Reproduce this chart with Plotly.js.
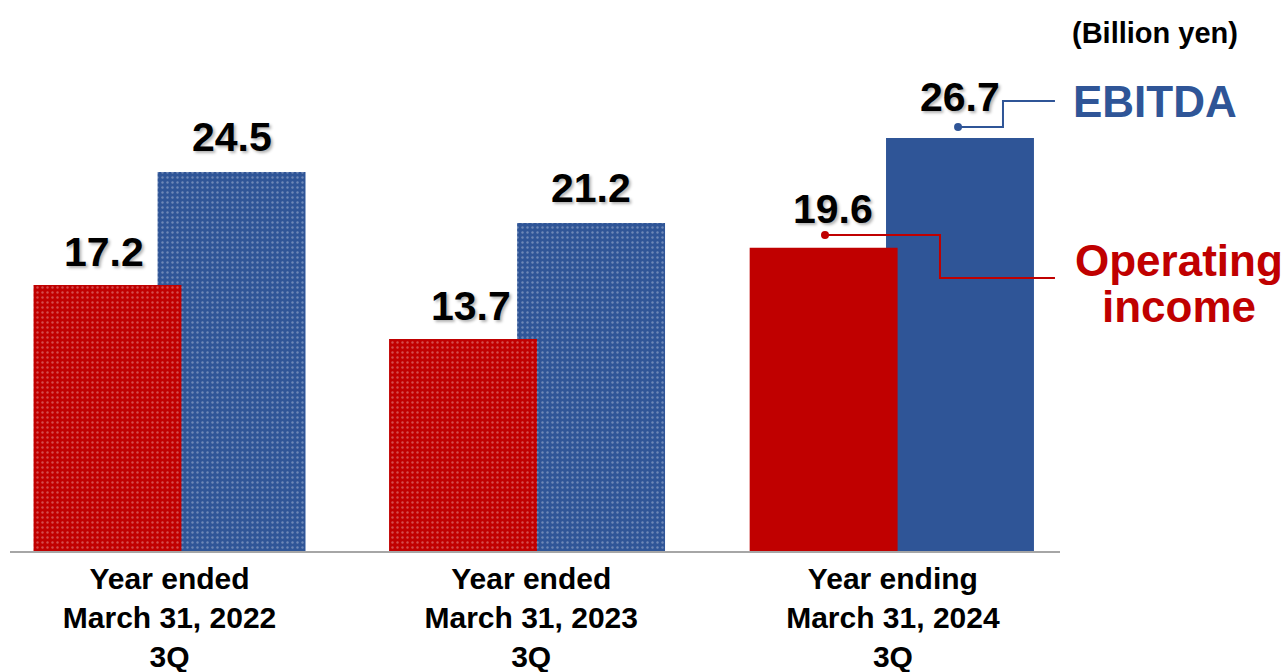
<!DOCTYPE html>
<html>
<head>
<meta charset="utf-8">
<script src="https://cdn.plot.ly/plotly-3.0.1.min.js"></script>
<style>html,body{margin:0;padding:0;background:#fff;}#chart{width:1288px;height:672px;}</style>
</head>
<body>
<div id="chart"></div>
<script>
// ---- data ----
const categories = [
  "Year ended<br>March 31, 2022<br>3Q",
  "Year ended<br>March 31, 2023<br>3Q",
  "Year ending<br>March 31, 2024<br>3Q"
];
const operatingIncome = [17.2, 13.7, 19.6];
const ebitda = [24.5, 21.2, 26.7];
const patterned = ['.', '.', ''];   // first two periods are drawn with a dotted fill
const unitLabel = "(Billion yen)";
const seriesNames = ["EBITDA", "Operating", "income"];

// ---- styling ----
const RED = "#C00000", BLUE = "#2F5597";
const FONT = "Liberation Sans, Arial, sans-serif";
const W = 0.409;
const OFF_RED = [-0.376, -0.393, -0.396];
const OFF_BLUE = [-0.033, -0.039, -0.019];
const LBL_SHIFT = [0, 0, 6];
const RED_XSHIFT = [-3, 8, 9];
const xs = categories.map((_, i) => i);

const pat = {shape: patterned, fillmode: 'overlay', fgcolor: 'rgba(255,255,255,0.6)', size: 5, solidity: 0.18};

const traces = [
  {type: 'bar', x: xs, y: ebitda, width: W, offset: OFF_BLUE, name: 'EBITDA',
   marker: {color: BLUE, line: {width: 0}, pattern: pat}, hoverinfo: 'y'},
  {type: 'bar', x: xs, y: operatingIncome, width: W, offset: OFF_RED, name: 'Operating income',
   marker: {color: RED, line: {width: 0}, pattern: pat}, hoverinfo: 'y'}
];

const valFont = {family: FONT, size: 41, color: '#000', weight: 700, shadow: '2px 2px 3px rgba(0,0,0,0.3)'};
const annotations = [];
xs.forEach(i => {
  annotations.push({x: i + OFF_RED[i] + W / 2, y: operatingIncome[i], xref: 'x', yref: 'y', xanchor: 'center',
    xshift: RED_XSHIFT[i], text: operatingIncome[i].toFixed(1), showarrow: false, yanchor: 'bottom',
    yshift: 8 + LBL_SHIFT[i], font: valFont});
  annotations.push({x: i + OFF_BLUE[i] + W / 2, y: ebitda[i], xref: 'x', yref: 'y', xanchor: 'center',
    text: ebitda[i].toFixed(1), showarrow: false, yanchor: 'bottom', yshift: 10 + LBL_SHIFT[i], font: valFont});
});
annotations.push({xref: 'paper', yref: 'paper', x: 1.0905, y: 0.9755, xanchor: 'center', yanchor: 'middle',
  text: unitLabel, showarrow: false, font: {family: FONT, size: 29, color: '#000', weight: 700}});
annotations.push({xref: 'paper', yref: 'paper', x: 1.0905, y: 0.8456, xanchor: 'center', yanchor: 'middle',
  text: seriesNames[0], showarrow: false, font: {family: FONT, size: 44, color: BLUE, weight: 700}});
annotations.push({xref: 'paper', yref: 'paper', x: 1.1133, y: 0.5480, xanchor: 'center', yanchor: 'middle',
  text: seriesNames[1], showarrow: false, font: {family: FONT, size: 44, color: RED, weight: 700}});
annotations.push({xref: 'paper', yref: 'paper', x: 1.1133, y: 0.4600, xanchor: 'center', yanchor: 'middle',
  text: seriesNames[2], showarrow: false, font: {family: FONT, size: 44, color: RED, weight: 700}});

const shapes = [
  {type: 'path', xref: 'paper', yref: 'paper', path: 'M0.9029,0.7985 L0.9457,0.7985 L0.9457,0.8475 L0.9952,0.8475',
   line: {color: BLUE, width: 2}},
  {type: 'circle', xref: 'paper', yref: 'paper', xsizemode: 'pixel', ysizemode: 'pixel', xanchor: 0.9029, yanchor: 0.7985,
   x0: -4, x1: 4, y0: -4, y1: 4, fillcolor: BLUE, line: {width: 0}},
  {type: 'path', xref: 'paper', yref: 'paper', path: 'M0.7762,0.5951 L0.8857,0.5951 L0.8857,0.5141 L0.9952,0.5141',
   line: {color: RED, width: 2}},
  {type: 'circle', xref: 'paper', yref: 'paper', xsizemode: 'pixel', ysizemode: 'pixel', xanchor: 0.7762, yanchor: 0.5951,
   x0: -4, x1: 4, y0: -4, y1: 4, fillcolor: RED, line: {width: 0}}
];

const layout = {
  width: 1288, height: 672,
  margin: {l: 10, r: 228, t: 20, b: 121},
  paper_bgcolor: '#fff', plot_bgcolor: '#fff',
  barmode: 'overlay', showlegend: false,
  font: {family: FONT},
  xaxis: {range: [-0.441, 2.462], tickvals: xs, ticktext: categories, showgrid: false, zeroline: false,
    showline: true, linecolor: '#A6A6A6', linewidth: 2, ticks: '', fixedrange: true,
    tickfont: {family: FONT, size: 30, color: '#000', weight: 700}},
  yaxis: {range: [0, 34.32], visible: false, showgrid: false, zeroline: false, fixedrange: true},
  annotations: annotations,
  shapes: shapes
};

Plotly.newPlot('chart', traces, layout, {displayModeBar: false, staticPlot: true});
</script>
</body>
</html>
